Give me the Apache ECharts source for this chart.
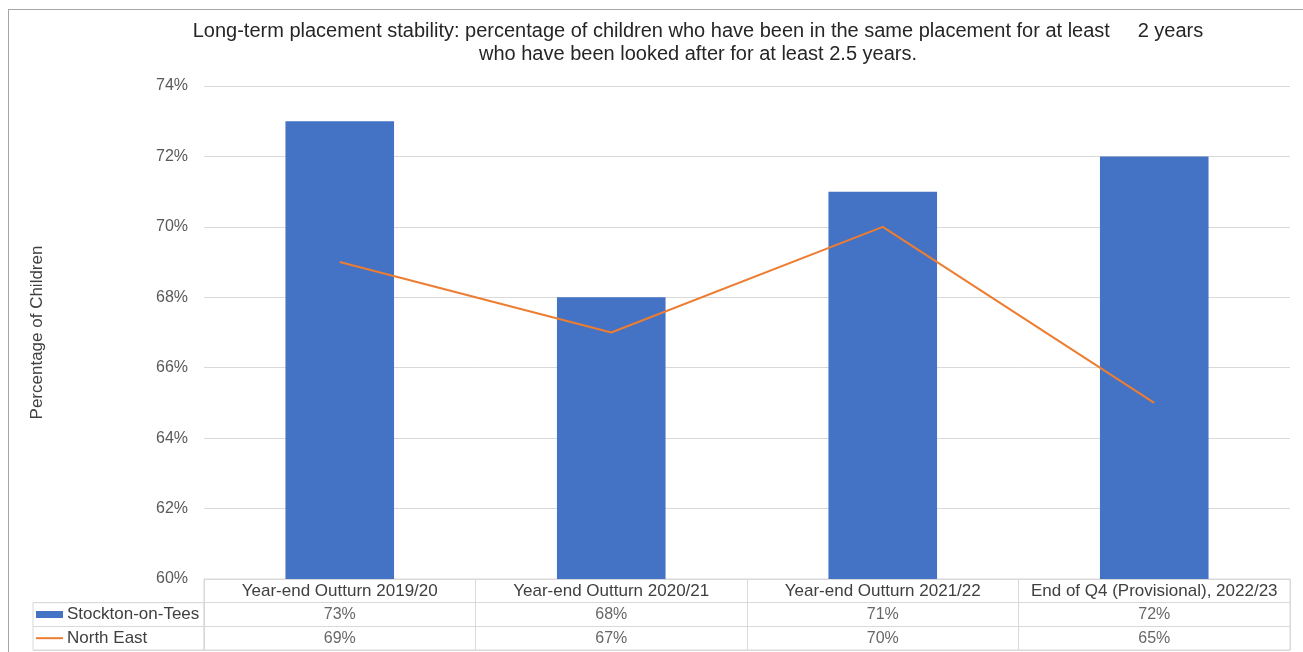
<!DOCTYPE html>
<html>
<head>
<meta charset="utf-8">
<script src="https://cdn.jsdelivr.net/npm/echarts@6/dist/echarts.min.js"></script>
<style>
  html, body { margin: 0; padding: 0; background: #fff; }
  #frame { position: absolute; left: 8px; top: 9px; width: 1295px; height: 643px;
           border-left: 1px solid #a6a6a6; border-top: 1px solid #a6a6a6; box-sizing: border-box; }
  #chart { position: absolute; left: 0; top: 0; width: 1303px; height: 652px; }
</style>
</head>
<body>
<div id="frame"></div>
<div id="chart"></div>
<script>
const titleText = 'Long-term placement stability: percentage of children who have been in the same placement for at least     2 years\nwho have been looked after for at least 2.5 years.';
const categories = ['Year-end Outturn 2019/20', 'Year-end Outturn 2020/21', 'Year-end Outturn 2021/22', 'End of Q4 (Provisional), 2022/23'];
const stockton = [73, 68, 71, 72];
const northEast = [69, 67, 70, 65];
const seriesNames = ['Stockton-on-Tees', 'North East'];
const yTicks = { min: 60, max: 74, interval: 2 };

const FONT = 'Liberation Sans, Arial, sans-serif';
const BAR_COLOR = '#4472C4', LINE_COLOR = '#ED7D31';
const GRID_L = 204, GRID_R = 13, PLOT_TOP = 86, PLOT_BOTTOM_Y = 579, TABLE_BOTTOM_Y = 650, H = 652;
const ROW_H = (TABLE_BOTTOM_Y - PLOT_BOTTOM_Y) / 3;
const BORDER = '#d9d9d9';

const tableRows = ['', seriesNames[0], seriesNames[1]];
const tableData = [];
stockton.forEach((v, i) => tableData.push([i, 1, v]));
northEast.forEach((v, i) => tableData.push([i, 2, v]));

const chart = echarts.init(document.getElementById('chart'), null, { renderer: 'canvas' });
chart.setOption({
  animation: false,
  textStyle: { fontFamily: FONT },
  title: {
    text: titleText,
    left: 693, top: 15, textAlign: 'center',
    textStyle: { fontFamily: FONT, fontSize: 20, fontWeight: 'normal', color: '#262626', lineHeight: 23 }
  },
  grid: [
    { left: GRID_L, right: GRID_R, top: PLOT_TOP, bottom: H - PLOT_BOTTOM_Y },
    { left: GRID_L, right: GRID_R, top: PLOT_BOTTOM_Y, bottom: H - TABLE_BOTTOM_Y, show: true, borderColor: BORDER, borderWidth: 1 },
    { left: 33, width: GRID_L - 33, top: PLOT_BOTTOM_Y + ROW_H, bottom: H - TABLE_BOTTOM_Y, show: true, borderColor: BORDER, borderWidth: 1 }
  ],
  xAxis: [
    { gridIndex: 0, type: 'category', data: categories,
      axisLine: { show: false }, axisTick: { show: false },
      axisLabel: { interval: 0, margin: 12, verticalAlign: 'middle', fontSize: 17, color: '#404040', fontFamily: FONT } },
    { gridIndex: 1, type: 'category', data: categories,
      axisLine: { show: false }, axisTick: { show: false }, axisLabel: { show: false },
      splitLine: { show: true, interval: 0, lineStyle: { color: BORDER, width: 1 } } },
    { gridIndex: 2, type: 'value', show: false }
  ],
  yAxis: [
    { gridIndex: 0, type: 'value', min: yTicks.min, max: yTicks.max, interval: yTicks.interval,
      name: 'Percentage of Children', nameLocation: 'middle', nameRotate: 90, nameGap: 158,
      nameTextStyle: { fontSize: 17, color: '#404040', fontFamily: FONT },
      axisLine: { show: false }, axisTick: { show: false },
      axisLabel: { formatter: '{value}%', margin: 16, fontSize: 16, color: '#595959', fontFamily: FONT },
      splitLine: { lineStyle: { color: BORDER, width: 1 } } },
    { gridIndex: 1, type: 'category', data: tableRows, inverse: true,
      axisLine: { show: false }, axisTick: { show: false }, axisLabel: { show: false },
      splitLine: { show: true, interval: 0, lineStyle: { color: BORDER, width: 1 } } },
    { gridIndex: 2, type: 'category', data: seriesNames, inverse: true,
      axisLine: { show: false }, axisTick: { show: false },
      axisLabel: {
        show: true, interval: 0, align: 'left', margin: -3,
        formatter: (v, i) => (i === 0 ? '{bar|}' : '{line|}') + '{t|' + v + '}',
        rich: {
          bar: { width: 27, height: 7, backgroundColor: BAR_COLOR },
          line: { width: 27, height: 2, backgroundColor: LINE_COLOR },
          t: { fontSize: 17, color: '#404040', fontFamily: FONT, padding: [0, 0, 0, 4] }
        }
      },
      splitLine: { show: true, interval: 0, lineStyle: { color: BORDER, width: 1 } } }
  ],
  series: [
    { name: seriesNames[0], type: 'bar', xAxisIndex: 0, yAxisIndex: 0, data: stockton,
      barWidth: '40%', itemStyle: { color: BAR_COLOR }, silent: true },
    { name: seriesNames[1], type: 'line', xAxisIndex: 0, yAxisIndex: 0, data: northEast,
      symbol: 'none', lineStyle: { color: LINE_COLOR, width: 2 }, itemStyle: { color: LINE_COLOR }, silent: true },
    { name: 'table', type: 'scatter', xAxisIndex: 1, yAxisIndex: 1, data: tableData,
      symbolSize: 1, itemStyle: { color: 'rgba(0,0,0,0)' }, silent: true,
      label: { show: true, position: 'inside', formatter: p => p.value[2] + '%',
               fontSize: 16, color: '#404040', fontFamily: FONT } }
  ]
});
</script>
</body>
</html>
